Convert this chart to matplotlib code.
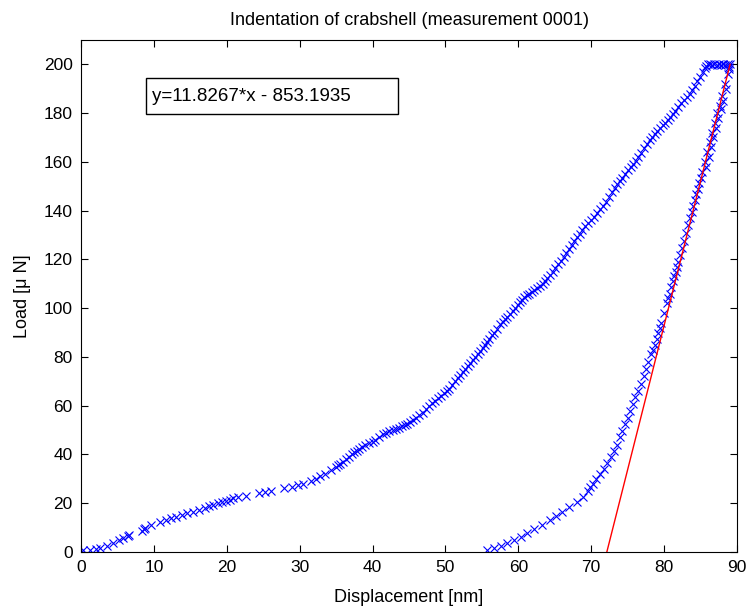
import numpy as np
import matplotlib
matplotlib.use("Agg")
import matplotlib.pyplot as plt
from matplotlib.patches import Rectangle

plt.rcParams['font.family'] = ['Liberation Sans', 'DejaVu Sans']

# loading branch (displacement nm, load uN)
load_x = [0.3, 1.2, 2.0, 2.6, 3.5, 4.4, 5.2, 5.8, 6.4, 6.6, 8.3, 8.6, 8.8, 9.6,
          10.8, 11.6, 12.3, 13.1, 13.8, 14.6, 15.4, 16.2, 17.0, 17.6, 18.1, 18.8,
          19.4, 19.9, 20.4, 20.9, 21.5, 22.7, 24.4, 25.2, 26.0, 27.8, 29.0, 29.8,
          30.5, 31.5, 32.2, 32.8, 33.5, 34.3, 35.0, 35.6, 36.4, 37.2, 37.8, 38.6,
          39.5, 40.4, 41.4, 42.3, 43.2, 44.0, 44.7, 45.5, 46.4, 47.4, 48.2, 49.0,
          49.8, 50.5, 51.3, 52.0, 52.7, 53.4, 54.1, 54.7, 55.4, 56.0, 56.7, 57.5,
          58.2, 58.8, 59.5, 60.2, 60.8, 61.5, 62.2, 63.0, 63.7, 64.3, 65.0, 65.8,
          66.6, 67.3, 68.0, 68.8, 69.6, 70.4, 71.2, 72.0, 72.8, 73.5, 74.2, 75.0,
          75.7, 76.4, 77.2, 78.0, 78.7, 79.4, 80.1, 80.8, 81.5, 82.3, 83.1, 83.8,
          84.5, 85.3, 85.8, 86.0]
load_y = [0.8, 1.0, 1.3, 1.6, 2.5, 3.7, 4.8, 5.6, 6.6, 7.0, 8.8, 9.5, 10.0, 11.0,
          12.2, 13.2, 13.8, 14.5, 15.2, 16.0, 16.6, 17.3, 18.2, 18.8, 19.3, 20.0,
          20.6, 21.0, 21.5, 22.0, 22.4, 23.1, 24.2, 24.5, 25.0, 26.2, 26.8, 27.5,
          28.0, 29.2, 30.0, 31.0, 32.0, 33.5, 35.0, 36.2, 38.0, 40.0, 41.5, 43.0,
          44.5, 46.0, 48.3, 49.5, 50.5, 51.5, 52.5, 54.0, 56.0, 58.5, 61.0, 63.0,
          65.0, 67.0, 70.0, 72.5, 75.0, 77.5, 80.0, 82.5, 85.0, 87.5, 90.0, 93.3,
          95.5, 97.5, 100.0, 102.5, 104.5, 106.0, 107.5, 109.0, 111.0, 113.5, 116.5, 119.5,
          122.5, 126.0, 129.0, 132.0, 135.0, 137.5, 140.5, 143.5, 147.5, 151.0, 153.5, 156.5,
          159.0, 162.0, 165.5, 169.0, 171.5, 174.0, 176.0, 178.5, 181.0, 184.0, 186.5, 189.5,
          193.0, 197.0, 199.3, 200.0]

# extra loading samples where the record is dense
load2_x = [35.3, 36.0, 36.8, 37.5, 38.2, 39.0, 40.0, 40.9, 41.8, 42.8, 43.6, 44.4,
           45.1, 46.0, 46.9, 47.8, 48.6, 49.4, 50.2, 50.9, 51.7, 52.4, 53.1, 53.8,
           54.4, 55.1, 55.7, 56.4, 57.1, 57.9, 58.5, 59.2, 59.9, 60.5, 61.2, 61.9,
           62.6, 63.4, 64.0, 64.7, 65.4, 66.2, 67.0, 67.7, 68.4, 69.2, 70.0, 70.8,
           71.6, 72.4, 73.2, 73.9, 74.6, 75.4, 76.1, 76.8, 77.6, 78.4, 79.0, 79.8,
           80.5, 81.2, 81.9, 82.7, 83.5, 84.2, 84.9, 85.6]
load2_y = [35.5, 37.0, 39.0, 40.8, 42.2, 43.8, 45.2, 47.0, 48.8, 50.0, 51.0, 52.0,
           53.2, 55.0, 57.2, 59.8, 62.0, 64.0, 66.0, 68.5, 71.2, 73.8, 76.2, 78.8,
           81.2, 83.8, 86.2, 88.8, 91.6, 94.4, 96.5, 98.8, 101.3, 103.5, 105.3, 106.8,
           108.2, 110.0, 112.2, 115.0, 118.0, 121.0, 124.2, 127.5, 130.5, 133.5, 136.2, 139.0,
           142.0, 145.5, 149.2, 152.2, 155.0, 157.8, 160.5, 163.8, 167.2, 170.2, 172.8, 175.0,
           177.2, 179.8, 182.5, 185.2, 188.0, 191.2, 195.0, 198.5]

# hold at max load
hold_x = [86.3, 86.6, 86.9, 87.2, 87.5, 87.8, 88.1, 88.4, 88.7, 89.0]
hold_y = [200, 199.6, 200, 199.6, 200, 199.6, 200, 199.6, 200, 200]

# unloading branch
unload_x = [88.95, 88.75, 88.4, 87.95, 87.6, 87.3, 86.95, 86.6, 86.25, 85.9, 85.55, 85.2,
            84.8, 84.4, 84.0, 83.55, 83.0, 82.45, 81.95, 81.6, 81.2, 80.75, 80.35, 79.6,
            79.2, 78.7, 78.2, 77.5, 76.8, 76.0, 75.3, 74.6, 73.9, 73.1, 72.2, 71.2,
            70.2, 69.5, 68.9, 68.0, 67.0, 66.0, 65.2, 64.3, 63.3, 62.2, 61.2, 60.3,
            59.4, 58.5, 57.6, 56.6, 55.7]
unload_y = [199, 196, 192, 187, 183, 180, 176, 172, 168, 164, 160, 156,
            151.5, 147, 142, 137, 131, 124.5, 119, 115, 111, 106, 102, 94,
            90, 85, 81, 75, 69, 63.5, 58, 52.5, 47, 41.5, 36.5, 32,
            28, 25, 22.5, 20.5, 18.5, 16.5, 14.8, 13, 11.2, 9.5, 7.8, 6.3,
            5, 3.7, 2.5, 1.5, 0.8]

unload2_x = [88.9, 88.5, 88.1, 87.8, 87.4, 87.1, 86.7, 86.4, 86.1, 85.7, 85.0, 84.6,
             84.2, 83.8, 83.3, 82.7, 82.2, 81.8, 81.4, 81.0, 80.5, 80.0, 79.4, 79.0,
             78.5, 77.8, 77.2, 76.4, 75.7, 75.0, 74.2, 73.5, 72.7, 71.7, 70.7, 69.8]
unload2_y = [198, 190, 185, 181.5, 178, 174, 170, 166, 162, 158, 153.5, 149,
             144.5, 139.5, 134, 127.5, 122, 117, 113, 108.5, 104, 98, 92, 87.5,
             83, 78, 72, 66, 60.5, 55, 49.5, 44, 39, 34, 30, 26.5]

# linear fit of the upper unloading part
slope = 11.8267
intercept = -853.1935
fit_ymax = 200

fig = plt.figure(figsize=(7.48, 6.11), dpi=100)
ax = fig.add_axes([0.1083, 0.0966, 0.877, 0.838])

mk = dict(marker='x', linestyle='none', color='#0000ff', markersize=6, markeredgewidth=0.8)
for xs, ys in [(load_x, load_y), (load2_x, load2_y), (hold_x, hold_y),
               (unload_x, unload_y), (unload2_x, unload2_y)]:
    ax.plot(xs, ys, **mk)

fx = np.array([-intercept / slope, (fit_ymax - intercept) / slope])
ax.plot(fx, slope * fx + intercept, color='red', linewidth=1)

ax.set_xlim(0, 90)
ax.set_ylim(0, 210)
ax.set_xticks(np.arange(0, 91, 10))
ax.set_yticks(np.arange(0, 201, 20))
ax.tick_params(direction='in', top=True, right=True, labelsize=12.5, length=5, pad=6)
for s in ax.spines.values():
    s.set_linewidth(0.8)

ax.set_title("Indentation of crabshell (measurement 0001)", fontsize=13, pad=11)
ax.set_xlabel("Displacement [nm]", fontsize=13, labelpad=10)
ax.set_ylabel("Load [\u03bc N]", fontsize=13, labelpad=9)

ax.add_patch(Rectangle((8.9, 179.5), 34.6, 14.8, fill=True, facecolor='white',
                       edgecolor='black', linewidth=1, zorder=5))
ax.text(9.7, 186.9, "y=11.8267*x - 853.1935", fontsize=13.5, va='center', ha='left', zorder=6)

fig.savefig("out.png", dpi=100)
